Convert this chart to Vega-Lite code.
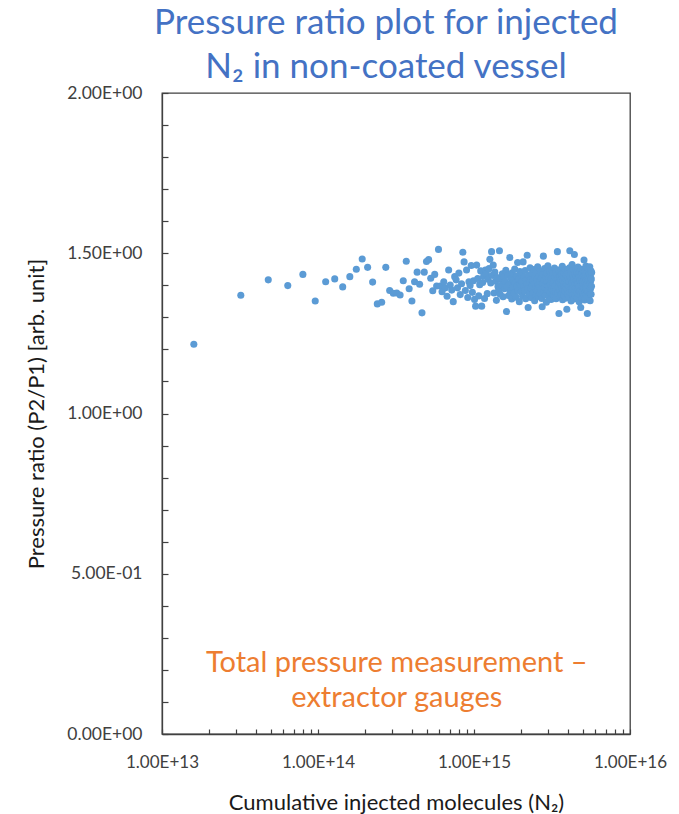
{
"$schema":"https://vega.github.io/schema/vega-lite/v6.json",
"width":468,"height":641,
"autosize":"none",
"padding":{"left":162,"top":93,"right":49,"bottom":80},
"background":"white",
"config":{"font":"Lato","view":{"stroke":"#404040","strokeWidth":1.3}},
"title":{"text":["Pressure ratio plot for injected","N₂ in non-coated vessel"],"fontSize":35,"font":"Lato","fontWeight":"normal","color":"#4472C4","lineHeight":44,"offset":-1,"anchor":"middle","dx":-10},
"encoding":{
"x":{"field":"x","type":"quantitative","scale":{"type":"log","domain":[1e13,1e16],"nice":false},
"axis":{"title":"Cumulative injected molecules (N₂)","values":[1e13,2e13,3e13,4e13,5e13,6e13,7e13,8e13,9e13,1e14,2e14,3e14,4e14,5e14,6e14,7e14,8e14,9e14,1e15,2e15,3e15,4e15,5e15,6e15,7e15,8e15,9e15,1e16],
"labelExpr":"abs(log(datum.value)/LN10 - round(log(datum.value)/LN10)) < 0.01 ? '1.00E+' + round(log(datum.value)/LN10) : ''",
"tickSize":-5,"tickColor":"#404040","tickWidth":1.2,"domainColor":"#404040","domainWidth":1.3,"grid":false,
"labelFont":"Lato","labelFontSize":17,"labelColor":"#404040","labelPadding":25,"labelOverlap":false,"labelFlush":false,
"titleFont":"Lato","titleFontSize":22,"titleFontWeight":"normal","titleColor":"#1a1a1a","titleY":75,"titleBaseline":"alphabetic"}},
"y":{"field":"y","type":"quantitative","scale":{"domain":[0,2],"nice":false,"zero":false},
"axis":{"title":"Pressure ratio (P2/P1) [arb. unit]","values":[0,0.1,0.2,0.3,0.4,0.5,0.6,0.7,0.8,0.9,1,1.1,1.2,1.3,1.4,1.5,1.6,1.7,1.8,1.9,2],
"labelExpr":"datum.value == 0 ? '0.00E+00' : datum.value == 0.5 ? '5.00E-01' : datum.value == 1 ? '1.00E+00' : datum.value == 1.5 ? '1.50E+00' : datum.value == 2 ? '2.00E+00' : ''",
"tickSize":-6,"tickColor":"#404040","tickWidth":1.2,"domainColor":"#404040","domainWidth":1.3,"grid":false,
"labelFont":"Lato","labelFontSize":17.5,"labelColor":"#404040","labelPadding":26,"labelOverlap":false,"labelFlush":false,
"titleFont":"Lato","titleFontSize":22,"titleFontWeight":"normal","titleColor":"#1a1a1a","titleX":-126,"titleY":320.5,"titleBaseline":"middle"}}
},
"layer":[
{"data":{"values":[
{"x":16e12,"y":1.216},{"x":32e12,"y":1.369},{"x":48e12,"y":1.417},{"x":64e12,"y":1.399},{"x":80e12,"y":1.434},{"x":96e12,"y":1.351},{"x":112e12,"y":1.411},{"x":128e12,"y":1.420},{"x":144e12,"y":1.395},{"x":160e12,"y":1.427},
{"x":176e12,"y":1.450},{"x":192e12,"y":1.482},{"x":208e12,"y":1.456},{"x":224e12,"y":1.410},{"x":240e12,"y":1.342},{"x":256e12,"y":1.347},{"x":272e12,"y":1.456},{"x":288e12,"y":1.384},{"x":304e12,"y":1.375},{"x":320e12,"y":1.376},
{"x":336e12,"y":1.370},{"x":352e12,"y":1.414},{"x":368e12,"y":1.475},{"x":384e12,"y":1.389},{"x":400e12,"y":1.351},{"x":416e12,"y":1.411},{"x":432e12,"y":1.441},{"x":448e12,"y":1.403},{"x":464e12,"y":1.314},{"x":480e12,"y":1.441},
{"x":496e12,"y":1.474},{"x":512e12,"y":1.480},{"x":528e12,"y":1.422},{"x":544e12,"y":1.383},{"x":560e12,"y":1.434},{"x":576e12,"y":1.398},{"x":592e12,"y":1.512},{"x":608e12,"y":1.398},{"x":624e12,"y":1.380},{"x":640e12,"y":1.411},
{"x":656e12,"y":1.392},{"x":672e12,"y":1.366},{"x":688e12,"y":1.448},{"x":704e12,"y":1.401},{"x":720e12,"y":1.385},{"x":736e12,"y":1.349},{"x":752e12,"y":1.427},{"x":768e12,"y":1.417},{"x":784e12,"y":1.392},{"x":800e12,"y":1.438},
{"x":816e12,"y":1.371},{"x":832e12,"y":1.405},{"x":848e12,"y":1.503},{"x":864e12,"y":1.473},{"x":880e12,"y":1.384},{"x":896e12,"y":1.448},{"x":912e12,"y":1.362},{"x":928e12,"y":1.411},{"x":944e12,"y":1.399},{"x":960e12,"y":1.462},
{"x":976e12,"y":1.378},{"x":992e12,"y":1.414},{"x":1008e12,"y":1.356},{"x":1024e12,"y":1.335},{"x":1040e12,"y":1.463},{"x":1056e12,"y":1.421},{"x":1072e12,"y":1.367},{"x":1088e12,"y":1.402},{"x":1104e12,"y":1.445},{"x":1120e12,"y":1.335},
{"x":1136e12,"y":1.409},{"x":1152e12,"y":1.428},{"x":1168e12,"y":1.359},{"x":1184e12,"y":1.448},{"x":1200e12,"y":1.437},{"x":1216e12,"y":1.374},{"x":1232e12,"y":1.419},{"x":1248e12,"y":1.452},{"x":1264e12,"y":1.481},{"x":1280e12,"y":1.407},
{"x":1296e12,"y":1.505},{"x":1312e12,"y":1.431},{"x":1328e12,"y":1.463},{"x":1344e12,"y":1.376},{"x":1360e12,"y":1.441},{"x":1376e12,"y":1.413},{"x":1392e12,"y":1.353},{"x":1408e12,"y":1.424},{"x":1424e12,"y":1.396},{"x":1440e12,"y":1.385},
{"x":1456e12,"y":1.508},{"x":1472e12,"y":1.372},{"x":1488e12,"y":1.418},{"x":1504e12,"y":1.401},{"x":1520e12,"y":1.436},{"x":1536e12,"y":1.364},{"x":1552e12,"y":1.427},{"x":1568e12,"y":1.389},{"x":1584e12,"y":1.412},{"x":1600e12,"y":1.447},
{"x":1616e12,"y":1.318},{"x":1632e12,"y":1.395},{"x":1648e12,"y":1.431},{"x":1664e12,"y":1.368},{"x":1680e12,"y":1.404},{"x":1696e12,"y":1.487},{"x":1712e12,"y":1.381},{"x":1728e12,"y":1.422},{"x":1744e12,"y":1.357},{"x":1760e12,"y":1.439},
{"x":1776e12,"y":1.393},{"x":1792e12,"y":1.415},{"x":1808e12,"y":1.376},{"x":1824e12,"y":1.451},{"x":1840e12,"y":1.408},{"x":1856e12,"y":1.363},{"x":1872e12,"y":1.429},{"x":1888e12,"y":1.397},{"x":1904e12,"y":1.471},{"x":1920e12,"y":1.384},
{"x":1936e12,"y":1.420},{"x":1952e12,"y":1.349},{"x":1968e12,"y":1.443},{"x":1984e12,"y":1.402},{"x":2000e12,"y":1.379},{"x":2016e12,"y":1.434},{"x":2032e12,"y":1.411},{"x":2048e12,"y":1.366},{"x":2064e12,"y":1.473},{"x":2080e12,"y":1.394},
{"x":2096e12,"y":1.425},{"x":2112e12,"y":1.382},{"x":2128e12,"y":1.446},{"x":2144e12,"y":1.358},{"x":2160e12,"y":1.416},{"x":2176e12,"y":1.403},{"x":2192e12,"y":1.494},{"x":2208e12,"y":1.388},{"x":2224e12,"y":1.331},{"x":2240e12,"y":1.432},
{"x":2256e12,"y":1.371},{"x":2272e12,"y":1.409},{"x":2288e12,"y":1.455},{"x":2304e12,"y":1.392},{"x":2320e12,"y":1.419},{"x":2336e12,"y":1.361},{"x":2352e12,"y":1.437},{"x":2368e12,"y":1.399},{"x":2384e12,"y":1.414},{"x":2400e12,"y":1.377},
{"x":2416e12,"y":1.449},{"x":2432e12,"y":1.405},{"x":2448e12,"y":1.352},{"x":2464e12,"y":1.426},{"x":2480e12,"y":1.391},{"x":2496e12,"y":1.440},{"x":2512e12,"y":1.369},{"x":2528e12,"y":1.418},{"x":2544e12,"y":1.383},{"x":2560e12,"y":1.458},
{"x":2576e12,"y":1.401},{"x":2592e12,"y":1.365},{"x":2608e12,"y":1.429},{"x":2624e12,"y":1.396},{"x":2640e12,"y":1.412},{"x":2656e12,"y":1.374},{"x":2672e12,"y":1.444},{"x":2688e12,"y":1.387},{"x":2704e12,"y":1.421},{"x":2720e12,"y":1.359},
{"x":2736e12,"y":1.333},{"x":2752e12,"y":1.407},{"x":2768e12,"y":1.435},{"x":2784e12,"y":1.491},{"x":2800e12,"y":1.380},{"x":2816e12,"y":1.416},{"x":2832e12,"y":1.452},{"x":2848e12,"y":1.393},{"x":2864e12,"y":1.370},{"x":2880e12,"y":1.427},
{"x":2896e12,"y":1.404},{"x":2912e12,"y":1.347},{"x":2928e12,"y":1.438},{"x":2944e12,"y":1.411},{"x":2960e12,"y":1.386},{"x":2976e12,"y":1.461},{"x":2992e12,"y":1.398},{"x":3008e12,"y":1.423},{"x":3024e12,"y":1.362},{"x":3040e12,"y":1.415},
{"x":3056e12,"y":1.445},{"x":3072e12,"y":1.378},{"x":3088e12,"y":1.402},{"x":3104e12,"y":1.431},{"x":3120e12,"y":1.356},{"x":3136e12,"y":1.419},{"x":3152e12,"y":1.390},{"x":3168e12,"y":1.447},{"x":3184e12,"y":1.373},{"x":3200e12,"y":1.408},
{"x":3216e12,"y":1.436},{"x":3232e12,"y":1.384},{"x":3248e12,"y":1.413},{"x":3264e12,"y":1.366},{"x":3280e12,"y":1.454},{"x":3296e12,"y":1.397},{"x":3312e12,"y":1.425},{"x":3328e12,"y":1.381},{"x":3344e12,"y":1.440},{"x":3360e12,"y":1.358},
{"x":3376e12,"y":1.417},{"x":3392e12,"y":1.403},{"x":3408e12,"y":1.432},{"x":3424e12,"y":1.505},{"x":3440e12,"y":1.375},{"x":3456e12,"y":1.420},{"x":3472e12,"y":1.394},{"x":3488e12,"y":1.448},{"x":3504e12,"y":1.312},{"x":3520e12,"y":1.410},
{"x":3536e12,"y":1.387},{"x":3552e12,"y":1.428},{"x":3568e12,"y":1.364},{"x":3584e12,"y":1.443},{"x":3600e12,"y":1.399},{"x":3616e12,"y":1.418},{"x":3632e12,"y":1.371},{"x":3648e12,"y":1.434},{"x":3664e12,"y":1.392},{"x":3680e12,"y":1.459},
{"x":3696e12,"y":1.355},{"x":3712e12,"y":1.414},{"x":3728e12,"y":1.385},{"x":3744e12,"y":1.426},{"x":3760e12,"y":1.401},{"x":3776e12,"y":1.368},{"x":3792e12,"y":1.439},{"x":3808e12,"y":1.411},{"x":3824e12,"y":1.382},{"x":3840e12,"y":1.450},
{"x":3856e12,"y":1.396},{"x":3872e12,"y":1.421},{"x":3888e12,"y":1.360},{"x":3904e12,"y":1.433},{"x":3920e12,"y":1.405},{"x":3936e12,"y":1.325},{"x":3952e12,"y":1.415},{"x":3968e12,"y":1.388},{"x":3984e12,"y":1.446},{"x":4000e12,"y":1.372},
{"x":4016e12,"y":1.424},{"x":4032e12,"y":1.398},{"x":4048e12,"y":1.437},{"x":4064e12,"y":1.363},{"x":4080e12,"y":1.412},{"x":4096e12,"y":1.455},{"x":4112e12,"y":1.508},{"x":4128e12,"y":1.379},{"x":4144e12,"y":1.427},{"x":4160e12,"y":1.394},
{"x":4176e12,"y":1.441},{"x":4192e12,"y":1.351},{"x":4208e12,"y":1.418},{"x":4224e12,"y":1.402},{"x":4240e12,"y":1.383},{"x":4256e12,"y":1.465},{"x":4272e12,"y":1.409},{"x":4288e12,"y":1.370},{"x":4304e12,"y":1.430},{"x":4320e12,"y":1.391},
{"x":4336e12,"y":1.448},{"x":4352e12,"y":1.416},{"x":4368e12,"y":1.357},{"x":4384e12,"y":1.423},{"x":4400e12,"y":1.496},{"x":4416e12,"y":1.386},{"x":4432e12,"y":1.436},{"x":4448e12,"y":1.404},{"x":4464e12,"y":1.367},{"x":4480e12,"y":1.419},
{"x":4496e12,"y":1.452},{"x":4512e12,"y":1.393},{"x":4528e12,"y":1.428},{"x":4544e12,"y":1.376},{"x":4560e12,"y":1.413},{"x":4576e12,"y":1.440},{"x":4592e12,"y":1.361},{"x":4608e12,"y":1.407},{"x":4624e12,"y":1.389},{"x":4640e12,"y":1.457},
{"x":4656e12,"y":1.422},{"x":4672e12,"y":1.374},{"x":4688e12,"y":1.435},{"x":4704e12,"y":1.398},{"x":4720e12,"y":1.349},{"x":4736e12,"y":1.426},{"x":4752e12,"y":1.410},{"x":4768e12,"y":1.444},{"x":4784e12,"y":1.381},{"x":4800e12,"y":1.415},
{"x":4816e12,"y":1.368},{"x":4832e12,"y":1.331},{"x":4848e12,"y":1.432},{"x":4864e12,"y":1.400},{"x":4880e12,"y":1.450},{"x":4896e12,"y":1.385},{"x":4912e12,"y":1.420},{"x":4928e12,"y":1.359},{"x":4944e12,"y":1.438},{"x":4960e12,"y":1.396},
{"x":4976e12,"y":1.413},{"x":4992e12,"y":1.373},{"x":5008e12,"y":1.447},{"x":5024e12,"y":1.405},{"x":5040e12,"y":1.364},{"x":5056e12,"y":1.429},{"x":5072e12,"y":1.479},{"x":5088e12,"y":1.391},{"x":5104e12,"y":1.418},{"x":5120e12,"y":1.354},
{"x":5136e12,"y":1.442},{"x":5152e12,"y":1.408},{"x":5168e12,"y":1.378},{"x":5184e12,"y":1.433},{"x":5200e12,"y":1.397},{"x":5216e12,"y":1.460},{"x":5232e12,"y":1.371},{"x":5248e12,"y":1.416},{"x":5264e12,"y":1.387},{"x":5280e12,"y":1.437},
{"x":5296e12,"y":1.402},{"x":5312e12,"y":1.362},{"x":5328e12,"y":1.312},{"x":5344e12,"y":1.425},{"x":5360e12,"y":1.394},{"x":5376e12,"y":1.453},{"x":5392e12,"y":1.380},{"x":5408e12,"y":1.411},{"x":5424e12,"y":1.446},{"x":5440e12,"y":1.366},
{"x":5456e12,"y":1.421},{"x":5472e12,"y":1.399},{"x":5488e12,"y":1.435},{"x":5504e12,"y":1.376},{"x":5520e12,"y":1.458},{"x":5536e12,"y":1.407},{"x":5552e12,"y":1.352},{"x":5568e12,"y":1.430},{"x":5584e12,"y":1.389},{"x":5600e12,"y":1.414},
{"x":5616e12,"y":1.445},{"x":5632e12,"y":1.372},{"x":5648e12,"y":1.420},{"x":5664e12,"y":1.397},{"x":5680e12,"y":1.440}
]},
"mark":{"type":"circle","size":50,"color":"#5B9BD5","opacity":1}},
{"data":{"values":[{"x":3.2e14,"y":0.194,"label":"Total pressure measurement –\nextractor gauges"}]},
"mark":{"type":"text","lineBreak":"\n","font":"Lato","fontSize":29,"color":"#ED7D31","align":"center","baseline":"alphabetic","lineHeight":35},
"encoding":{"text":{"field":"label"}}}
]
}
